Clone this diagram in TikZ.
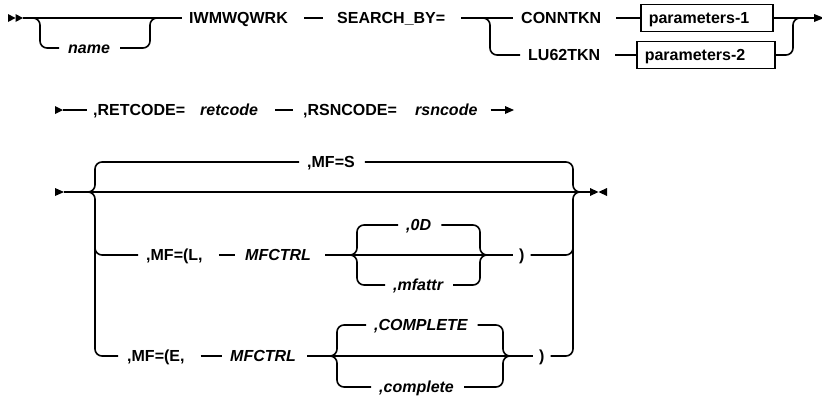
\documentclass[tikz,border=0pt]{standalone}
\usepackage{fontspec}
\setmainfont{Liberation Sans}
\begin{document}
\begin{tikzpicture}[x=1pt,y=-1pt,
  t/.style={inner xsep=0pt,inner ysep=0pt,text height=11.5pt,text depth=0pt,anchor=west,font=\fontsize{16}{19}\selectfont\bfseries},
  v/.style={t,font=\fontsize{16}{19}\selectfont\bfseries\itshape},
  ln/.style={line width=1.6pt},
  rc/.style={line width=1.6pt,rounded corners=7pt},
  bx/.style={t,draw,line width=1.6pt,inner xsep=8pt,minimum height=27pt,align=left}]
\useasboundingbox (0,0) rectangle (822,397);
% ---------- row 1 ----------
\fill (8,14) -- (15.5,18) -- (8,22) -- cycle;
\fill (15.5,14) -- (23,18) -- (15.5,22) -- cycle;
\coordinate (s1) at (23,18);
\node[v] (name) at (68,48) {name};
\node[t] (iw) at (189,18) {IWMWQWRK};
\node[t] (sb) at (337,18) {SEARCH\_BY=};
\node[t] (cn) at (521,18) {CONNTKN};
\node[t] (lu) at (528,55) {LU62TKN};
\node[bx,text width=116pt] (p1) at (640,18) {parameters-1};
\node[bx,text width=122pt] (p2) at (636,55) {parameters-2};
\coordinate (e1) at (814,18);
\fill (814,14) -- (824,18) -- (814,22) -- cycle;
\draw[ln] (s1) -- ([xshift=-7pt]iw.west);
\draw[rc] (31,18) -- (40,18) -- (40,48) -- ([xshift=-9pt]name.west);
\draw[rc] ([xshift=10pt]name.east) -- (150,48) -- (150,18) -- (158,18);
\draw[ln] ([xshift=16pt]iw.east) -- ([xshift=-14pt]sb.west);
\draw[ln] ([xshift=16pt]sb.east) -- ([xshift=-8pt]cn.west);
\draw[rc] (483,18) -- (490,18) -- (490,55) -- ([xshift=-8pt]lu.west);
\draw[ln] ([xshift=15pt]cn.east) -- (p1.west);
\draw[ln] ([xshift=15pt]lu.east) -- (p2.west);
\draw[ln] (p1.east) -- (e1);
\draw[rc] (p2.east) -- (793,55) -- (793,18) -- (801,18);
% ---------- row 2 ----------
\fill (55,106) -- (63,110) -- (55,114) -- cycle;
\coordinate (s2) at (63,110);
\node[t] (retc) at (93,110) {,RETCODE=};
\node[v] (retv) at (200,110) {retcode};
\node[t] (rsnc) at (303,110) {,RSNCODE=};
\node[v] (rsnv) at (415,110) {rsncode};
\coordinate (e2) at (505,110);
\fill (505,106) -- (514,110) -- (505,114) -- cycle;
\draw[ln] (s2) -- ([xshift=-6pt]retc.west);
\draw[ln] ([xshift=17pt]retv.east) -- ([xshift=-10pt]rsnc.west);
\draw[ln] ([xshift=13pt]rsnv.east) -- (e2);
% ---------- row 3 ----------
\fill (55,188) -- (64,192) -- (55,196) -- cycle;
\coordinate (s3) at (64,192);
\fill (590,188) -- (598.5,192) -- (590,196) -- cycle;
\fill (607,188) -- (598.5,192) -- (607,196) -- cycle;
\coordinate (e3) at (590,192);
\draw[ln] (s3) -- (e3);
\node[t] (mfs) at (307,162) {,MF=S};
\node[t] (mfl) at (146,255) {,MF=(L,};
\node[v] (ctl) at (245,255) {MFCTRL};
\node[v] (od) at (406,225) {,0D};
\node[v] (mfa) at (393,285) {,mfattr};
\node[t] (pl) at (519,255) {)};
\node[t] (mfe) at (127,356) {,MF=(E,};
\node[v] (cte) at (230,356) {MFCTRL};
\node[v] (cpu) at (374,325) {,COMPLETE};
\node[v] (cpl) at (379,387) {,complete};
\node[t] (pe) at (539,356) {)};
% outer choice
\draw[rc] (88,192) -- (95,192) -- (95,162) -- ([xshift=-8pt]mfs.west);
\draw[rc] ([xshift=10pt]mfs.east) -- (573,162) -- (573,192) -- (581,192);
\draw[rc] (88,192) -- (95,192) -- (95,356) -- ([xshift=-9pt]mfe.west);
\draw[rc] (95,240) -- (95,255) -- ([xshift=-8pt]mfl.west);
% L row
\draw[ln] ([xshift=16pt]mfl.east) -- ([xshift=-10pt]ctl.west);
\draw[ln] ([xshift=14pt]ctl.east) -- ([xshift=-6pt]pl.west);
\draw[rc] (350,255) -- (357,255) -- (357,225) -- ([xshift=-8pt]od.west);
\draw[rc] ([xshift=10pt]od.east) -- (480,225) -- (480,255) -- (487,255);
\draw[rc] (350,255) -- (357,255) -- (357,285) -- ([xshift=-8pt]mfa.west);
\draw[rc] ([xshift=10pt]mfa.east) -- (480,285) -- (480,255) -- (487,255);
\draw[rc] ([xshift=6pt]pl.east) -- (573,255) -- (573,240);
% E row
\draw[ln] ([xshift=16pt]mfe.east) -- ([xshift=-8pt]cte.west);
\draw[ln] ([xshift=11pt]cte.east) -- ([xshift=-6pt]pe.west);
\draw[rc] (330,356) -- (337,356) -- (337,325) -- ([xshift=-8pt]cpu.west);
\draw[rc] ([xshift=10pt]cpu.east) -- (503,325) -- (503,356) -- (510,356);
\draw[rc] (330,356) -- (337,356) -- (337,387) -- ([xshift=-8pt]cpl.west);
\draw[rc] ([xshift=10pt]cpl.east) -- (503,387) -- (503,356) -- (510,356);
\draw[rc] ([xshift=6pt]pe.east) -- (573,356) -- (573,192) -- (581,192);
\end{tikzpicture}
\end{document}
